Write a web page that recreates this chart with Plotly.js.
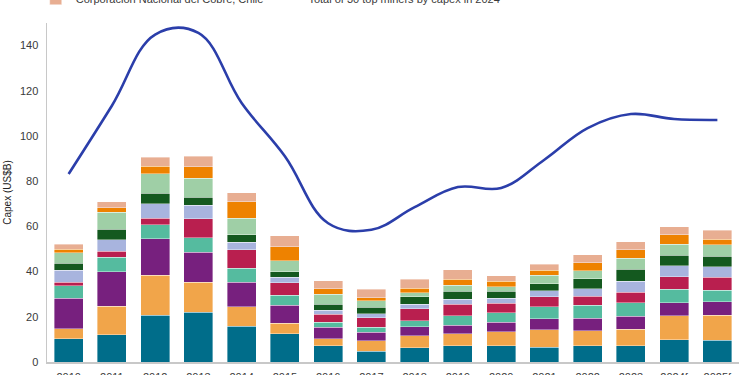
<!DOCTYPE html>
<html>
<head>
<meta charset="utf-8">
<script src="https://cdn.plot.ly/plotly-3.0.1.min.js"></script>
<style>html,body{margin:0;padding:0;background:#fff;}#chart{width:750px;height:375px;}</style>
</head>
<body>
<div id="chart"></div>
<script>
const years = ["2010","2011","2012","2013","2014","2015","2016","2017","2018","2019","2020","2021","2022","2023","2024f","2025f"];

const seriesNames = ["BHP","Rio Tinto","Vale","Glencore","Anglo American","Freeport-McMoRan","Barrick Gold","Newmont","Other top-30 miners","Corporación Nacional del Cobre, Chile"];
const seriesColors = ["#006D8A","#F1A54A","#77207E","#55BB9F","#B91F4F","#A8B4DE","#14591F","#9FCFA6","#EE8200","#E8AE92"];

const s1 = [10.2,12.0,20.7,22.0,15.8,12.4,7.2,4.7,6.2,7.1,7.1,6.6,7.2,7.2,9.9,9.6];
const s2 = [4.6,12.7,17.7,13.3,8.6,4.7,3.1,4.6,5.5,5.4,6.3,7.6,6.7,7.4,10.6,11.1];
const s3 = [13.4,15.2,16.1,13.3,11.0,8.0,5.1,3.9,3.8,3.8,4.3,4.9,5.5,5.6,5.8,6.0];
const s4 = [5.5,6.5,6.2,6.3,6.1,4.4,2.3,2.2,2.8,4.1,4.2,5.4,5.7,6.1,6.0,5.1];
const s5 = [1.7,2.6,3.0,8.5,8.1,5.6,3.4,4.1,5.2,5.2,4.1,4.3,4.0,4.6,5.4,5.7];
const s6 = [5.2,5.0,6.3,5.9,3.3,2.4,1.9,1.9,2.1,2.2,2.3,2.8,3.4,4.9,4.8,4.7];
const s7 = [3.1,4.8,4.7,3.5,3.5,2.5,2.6,2.8,3.2,3.5,3.0,3.0,4.4,5.2,4.8,4.7];
const s8 = [4.6,7.4,8.6,8.4,7.3,4.9,4.4,3.0,1.9,2.7,2.0,3.8,3.4,5.0,4.8,4.9];
const s9 = [1.5,2.0,3.4,5.2,7.3,6.2,2.5,1.2,1.9,2.6,2.4,2.1,3.6,3.6,4.1,2.5];
const s10 = [2.3,2.6,4.0,4.7,3.9,4.7,3.4,3.8,4.0,4.3,2.4,2.8,3.6,3.6,3.6,3.9];

const totalName = "Total of 30 top miners by capex in 2024";
const totalValues = [83.2,113.4,144.9,145.6,114.6,91.0,61.4,58.5,68.5,77.4,77.0,89.5,103.5,109.7,107.5,107.1];

const stack = [s1,s2,s3,s4,s5,s6,s7,s8,s9,s10];
const traces = stack.map((vals, i) => ({
  type: 'bar',
  name: seriesNames[i],
  x: years,
  y: vals,
  marker: {color: seriesColors[i], line: {color: 'rgba(255,255,255,0.55)', width: 0.7}},
  showlegend: i === stack.length - 1,
  hoverinfo: 'x+y+name'
}));
traces.push({
  type: 'scatter',
  mode: 'lines',
  name: totalName,
  x: years,
  y: totalValues,
  line: {color: '#2B3EAA', width: 2.6, shape: 'spline', smoothing: 1.1},
  showlegend: true
});

const font = "'Liberation Sans', Arial, sans-serif";
const layout = {
  width: 750, height: 375,
  margin: {l: 47, r: 11, t: 23, b: 13, autoexpand: false},
  paper_bgcolor: '#ffffff', plot_bgcolor: '#ffffff',
  barmode: 'stack',
  bargap: 0.33,
  font: {family: font, size: 11, color: '#3a3a3a'},
  showlegend: true,
  legend: {orientation: 'h', x: -0.0163, xanchor: 'left', y: 1.029, yanchor: 'bottom',
           font: {family: font, size: 11, color: '#3a3a3a'}, traceorder: 'normal', bgcolor: 'rgba(0,0,0,0)'},
  xaxis: {type: 'category', showgrid: false, showline: true, linecolor: '#c8c8c8', linewidth: 1.5,
          ticks: '', tickfont: {family: font, size: 11, color: '#3a3a3a'}, ticklabelstandoff: 4, fixedrange: true},
  yaxis: {range: [0, 150], dtick: 20, tick0: 0, showgrid: false, zeroline: false, showline: true,
          linecolor: '#c8c8c8', linewidth: 1.5, ticks: '', ticklabelstandoff: 5,
          tickfont: {family: font, size: 11, color: '#3a3a3a'},
          title: {text: 'Capex (US$B)', font: {family: font, size: 10, color: '#222'}, standoff: 6}},
};
Plotly.newPlot('chart', traces, layout, {displayModeBar: false, staticPlot: true});
</script>
</body>
</html>
